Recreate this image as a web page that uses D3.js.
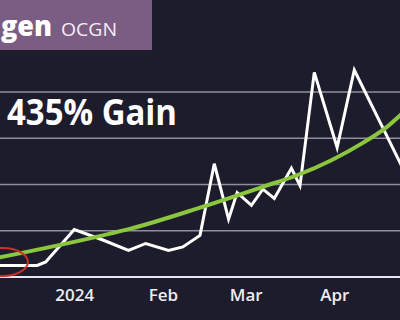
<!DOCTYPE html>
<html>
<head>
<meta charset="utf-8">
<script src="https://cdn.jsdelivr.net/npm/d3@7"></script>
<style>
  html, body { margin: 0; padding: 0; background: #1c1c2c; }
  svg { display: block; }
</style>
</head>
<body>
<div id="chart"></div>
<script>
// Ocugen (OCGN) share price, Dec 2023 - Apr 2024
var priceDates = ["2023-12-05", "2023-12-19", "2023-12-22", "2024-01-01", "2024-01-11",
    "2024-01-20", "2024-01-26", "2024-02-03", "2024-02-08", "2024-02-14", "2024-02-19",
    "2024-02-24", "2024-02-27", "2024-03-03", "2024-03-07", "2024-03-11", "2024-03-17",
    "2024-03-20", "2024-03-25", "2024-04-02", "2024-04-08", "2024-04-25"];
var priceValues = [0.30, 0.30, 0.33, 0.61, 0.52,
    0.43, 0.49, 0.43, 0.46, 0.56, 1.18,
    0.70, 0.93, 0.82, 0.96, 0.88, 1.14,
    0.99, 1.97, 1.32, 1.99, 1.14];

// trend curve
var trendDates = ["2023-12-06", "2024-01-11", "2024-01-21", "2024-02-14", "2024-03-07",
    "2024-03-19", "2024-03-31", "2024-04-11", "2024-04-19", "2024-04-25"];
var trendValues = [0.37, 0.56, 0.62, 0.80, 0.98, 1.08, 1.21, 1.36, 1.49, 1.62];

var gridValues = [0.6, 1.0, 1.4, 1.8];
var tickDates = ["2024-01-01", "2024-02-01", "2024-03-01", "2024-04-01"];
var tickLabels = ["2024", "Feb", "Mar", "Apr"];

var width = 400, height = 320;
var parseDate = d3.timeParse("%Y-%m-%d");

var svg = d3.select("#chart").append("svg")
    .attr("width", width)
    .attr("height", height);

svg.append("rect")
    .attr("width", width)
    .attr("height", height)
    .attr("fill", "#1c1c2c");

var x = d3.scaleTime()
    .domain([parseDate("2023-12-06"), parseDate("2024-04-24")])
    .range([0, width]);
var y = d3.scaleLinear()
    .domain([0.2, 1.8])
    .range([277, 92]);

// gridlines
svg.selectAll(".grid")
    .data(gridValues)
    .enter().append("line")
    .attr("class", "grid")
    .attr("x1", 0)
    .attr("x2", width)
    .attr("y1", function(d) { return y(d); })
    .attr("y2", function(d) { return y(d); })
    .attr("stroke", "#8e8e9e")
    .attr("stroke-width", 1.5);

// x axis
var ticks = tickDates.map(parseDate);
var xAxis = svg.append("g")
    .attr("transform", "translate(0," + y(0.2) + ")")
    .call(d3.axisBottom(x)
        .tickValues(ticks)
        .tickSize(0)
        .tickPadding(12)
        .tickFormat(function(d, i) { return tickLabels[i]; }));
xAxis.select(".domain")
    .attr("d", "M-10,0H" + (width + 10))
    .attr("stroke", "#e6e6ee")
    .attr("stroke-width", 2);
xAxis.selectAll("text")
    .attr("fill", "#ececf0")
    .style("font-family", "Open Sans, sans-serif")
    .style("font-weight", "600")
    .style("font-size", "17px");

// price line
var priceData = priceDates.map(function(d, i) { return {date: parseDate(d), value: priceValues[i]}; });
var trendData = trendDates.map(function(d, i) { return {date: parseDate(d), value: trendValues[i]}; });

var line = d3.line()
    .x(function(d) { return x(d.date); })
    .y(function(d) { return y(d.value); });

svg.append("path")
    .datum(priceData)
    .attr("fill", "none")
    .attr("stroke", "#ffffff")
    .attr("stroke-width", 3)
    .attr("stroke-linejoin", "miter")
    .attr("d", line);

svg.append("path")
    .datum(trendData)
    .attr("fill", "none")
    .attr("stroke", "#8cc63f")
    .attr("stroke-width", 4)
    .attr("stroke-linecap", "round")
    .attr("d", line.curve(d3.curveMonotoneX));

// red circle on the starting point
svg.append("ellipse")
    .attr("cx", x(parseDate("2023-12-07")))
    .attr("cy", y(0.33))
    .attr("rx", 25)
    .attr("ry", 14)
    .attr("fill", "none")
    .attr("stroke", "#cc2f2c")
    .attr("stroke-width", 2);

// title box
svg.append("rect")
    .attr("x", -2)
    .attr("y", -2)
    .attr("width", 154)
    .attr("height", 52)
    .attr("fill", "#7b5c82");

svg.append("text")
    .attr("x", 1)
    .attr("y", 36)
    .attr("fill", "#ffffff")
    .attr("textLength", 51)
    .attr("lengthAdjust", "spacingAndGlyphs")
    .style("font-family", "Open Sans, sans-serif")
    .style("font-weight", "800")
    .style("font-size", "29px")
    .text("gen");

svg.append("text")
    .attr("x", 61)
    .attr("y", 36)
    .attr("fill", "#f4eef6")
    .attr("textLength", 56)
    .attr("lengthAdjust", "spacingAndGlyphs")
    .style("font-family", "Open Sans, sans-serif")
    .style("font-weight", "500")
    .style("font-size", "18px")
    .text("OCGN");

svg.append("text")
    .attr("x", 7)
    .attr("y", 125)
    .attr("fill", "#ffffff")
    .attr("textLength", 170)
    .attr("lengthAdjust", "spacingAndGlyphs")
    .style("font-family", "Open Sans, sans-serif")
    .style("font-weight", "700")
    .style("font-size", "35px")
    .text("435% Gain");
</script>
</body>
</html>
